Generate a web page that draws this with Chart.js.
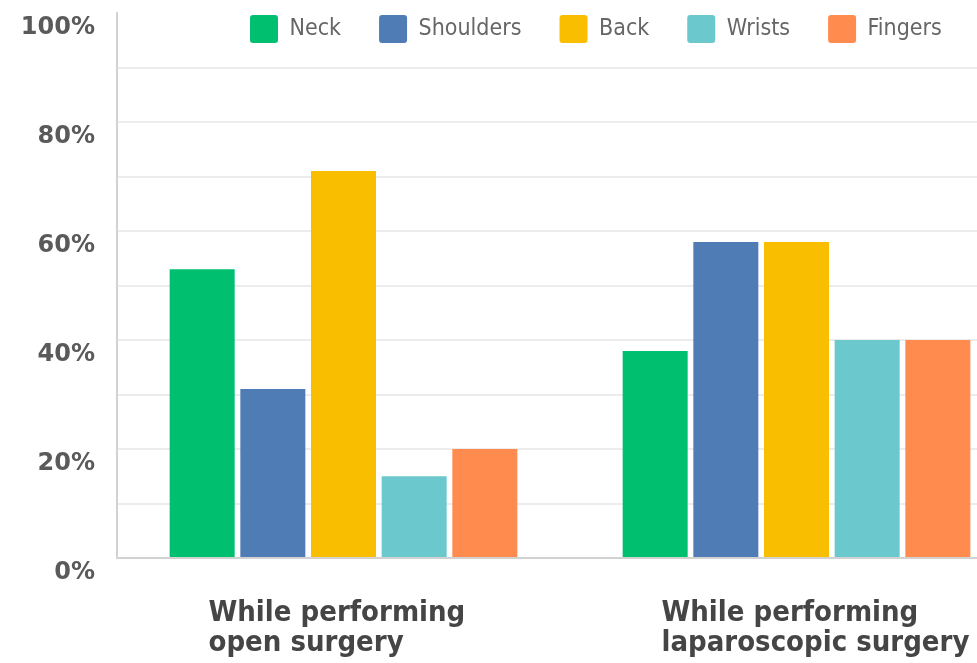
<!DOCTYPE html>
<html>
<head>
<meta charset="utf-8">
<script src="https://cdn.jsdelivr.net/npm/chart.js@4/dist/chart.umd.min.js"></script>
<style>
  html, body { margin: 0; padding: 0; background: #fff; overflow: hidden; }
  #wrap { width: 1030px; height: 663px; position: relative; }
</style>
</head>
<body>
<div id="wrap"><canvas id="chart"></canvas></div>
<script>
// data
const categories = [
  ['While performing', 'open surgery'],
  ['While performing', 'laparoscopic surgery']
];
const seriesNames = ['Neck', 'Shoulders', 'Back', 'Wrists', 'Fingers'];
const neck = [53, 38];
const shoulders = [31, 58];
const back = [71, 58];
const wrists = [15, 40];
const fingers = [20, 40];
const yTicks = [0, 20, 40, 60, 80, 100];

const colors = ['#00bf6f', '#507cb6', '#f9be00', '#6bc8cd', '#ff8b4f'];
const values = [neck, shoulders, back, wrists, fingers];

// legend overlaps the top of the plot in the original, so it takes no room
// in the layout and gets moved into place afterwards
const legendShift = {
  id: 'legendShift',
  afterLayout(chart) {
    const l = chart.legend;
    if (!l) return;
    l.top -= 36;
    l.height = 80;
    l.bottom = l.top + l.height;
    l.left += 212; l.right += 212;
  }
};

new Chart(document.getElementById('chart'), {
  type: 'bar',
  data: {
    labels: categories,
    datasets: seriesNames.map((name, i) => ({
      label: name,
      data: values[i],
      backgroundColor: colors[i],
      borderWidth: 0,
      categoryPercentage: 0.78,
      barPercentage: 0.92
    }))
  },
  options: {
    responsive: true,
    maintainAspectRatio: false,
    animation: false,
    layout: { padding: { top: 13, right: 7, left: 0, bottom: 0 } },
    plugins: {
      tooltip: { enabled: false },
      legend: {
        position: 'top',
        align: 'start',
        maxHeight: 0.001,
        labels: {
          boxWidth: 28,
          boxHeight: 28,
          padding: 38,
          useBorderRadius: true,
          borderRadius: 3,
          color: '#666',
          font: { family: "'DejaVu Sans Condensed', 'Liberation Sans Narrow', sans-serif", size: 23 }
        }
      }
    },
    scales: {
      x: {
        grid: { display: false, drawTicks: false },
        border: { display: true, color: '#d2d2d2', width: 2 },
        afterFit(scale) {
          scale.height = 105;
          scale.paddingLeft = 0;
          scale.paddingRight = 0;
        },
        ticks: {
          align: 'start',
          labelOffset: -135,
          padding: 40,
          color: '#454545',
          autoSkip: false,
          maxRotation: 0,
          font: { family: "'DejaVu Sans Condensed', 'Liberation Sans Narrow', sans-serif", size: 29, weight: 'bold', lineHeight: 1.04 }
        }
      },
      y: {
        min: 0,
        max: 100,
        afterFit(scale) {
          scale.width = 117;
          scale.paddingTop = 0;
          scale.paddingBottom = 0;
        },
        grid: {
          drawTicks: false,
          lineWidth: 2,
          color: ctx => (ctx.tick && ctx.tick.value === 100) ? 'rgba(0,0,0,0)' : '#ececec'
        },
        border: { display: true, color: '#d2d2d2', width: 2 },
        ticks: {
          stepSize: 10,
          padding: 22,
          labelOffset: 15,
          color: '#5a5a5a',
          autoSkip: false,
          font: { family: "'DejaVu Sans', sans-serif", size: 24, weight: 'bold' },
          callback: v => yTicks.includes(v) ? v + '%' : ''
        }
      }
    }
  },
  plugins: [legendShift]
});
</script>
</body>
</html>
